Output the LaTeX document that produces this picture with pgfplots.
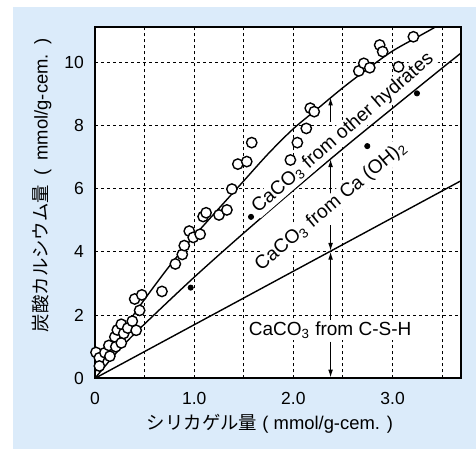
\documentclass[border=0pt]{standalone}
\usepackage{pgfplots}
\pgfplotsset{compat=1.18}
\usetikzlibrary{arrows.meta}
\usepackage{fontspec}
\setmainfont{Liberation Sans}
\newfontfamily\jp{Noto Sans CJK JP}
\definecolor{panel}{RGB}{219,235,250}

% measured carbonate contents
\pgfplotstableread{
x y
0.01 0.82
0.044 0.65
0.044 0.39
0.10 0.81
0.15 0.70
0.14 1.04
0.20 1.31
0.21 1.00
0.265 1.12
0.225 1.53
0.265 1.71
0.29 1.42
0.33 1.59
0.376 1.81
0.415 1.52
0.45 2.15
0.40 2.51
0.472 2.64
0.675 2.75
0.81 3.62
0.88 3.92
0.90 4.20
0.95 4.66
0.99 4.46
1.06 4.56
1.09 5.12
1.12 5.24
1.25 5.17
1.33 5.33
1.38 5.99
1.44 6.78
1.53 6.86
1.58 7.46
1.97 6.91
2.04 7.46
2.13 7.91
2.17 8.55
2.21 8.44
2.66 9.73
2.71 9.97
2.77 9.83
2.87 10.55
2.90 10.34
3.06 9.86
3.21 10.81
}\opencircles

\pgfplotstableread{
x y
0.965 2.87
1.573 5.11
2.745 7.35
3.246 9.02
}\filleddots

% total carbonate curve
\pgfplotstableread{
x y
0.00 0.20
0.25 1.38
0.50 2.50
0.75 3.55
1.00 4.50
1.25 5.38
1.50 6.25
1.75 7.12
2.00 7.90
2.25 8.55
2.50 9.20
2.75 9.80
3.00 10.36
3.25 10.80
3.45 11.15
}\totalcurve

% carbonate from C-S-H plus Ca(OH)2
\pgfplotstableread{
x y
0.00 0.00
0.25 0.93
0.50 1.72
1.00 3.20
1.50 4.60
2.00 5.95
2.50 7.27
3.00 8.55
3.50 9.82
3.70 10.32
}\midcurve

% carbonate from C-S-H
\pgfplotstableread{
x y
0.00 0.00
3.70 6.27
}\cshline

\begin{document}
\begin{tikzpicture}
\fill[panel] (6.5pt,0pt) rectangle (238pt,221pt);
\path[use as bounding box] (0pt,0pt) rectangle (238pt,224.5pt);
\begin{axis}[
  at={(47.5pt,35.35pt)}, anchor=south west,
  scale only axis, width=183pt, height=175.65pt,
  xmin=0, xmax=3.69, ymin=0, ymax=11.12,
  axis background/.style={fill=white},
  axis line style={line width=1pt},
  xtick={0,0.5,1,1.5,2,2.5,3,3.5},
  xticklabels={0,,1.0,,2.0,,3.0,},
  ytick={0,2,4,6,8,10},
  major tick length=0pt,
  grid=major,
  grid style={black, line width=0.5pt, dash pattern=on 1.5pt off 1.5pt},
  /pgf/number format/assume math mode=true,
  ticklabel style={font=\fontsize{8.75}{10}\selectfont},
  xticklabel style={yshift=-3.5pt},
  yticklabel style={xshift=-2pt},
  xlabel={{\jp シリカゲル量} ( mmol/g-cem. )},
  ylabel={{\jp 炭酸カルシウム量}\,\,\,(\,\,\,mmol/g-cem.\,\,\,)},
  label style={font=\fontsize{9.2}{11}\selectfont},
  xlabel style={at={(axis description cs:0.478,-0.130)}, anchor=center},
  ylabel style={at={(axis description cs:-0.1456,0.549)}, anchor=center},
  clip=true,
]
\addplot[black, line width=0.7pt, smooth] table {\totalcurve};
\addplot[black, line width=0.7pt, smooth] table {\midcurve};
\addplot[black, line width=0.7pt] table {\cshline};
\addplot[only marks, mark=*, mark size=2.6pt, mark options={fill=white, draw=black, line width=0.7pt}] table {\opencircles};
\addplot[only marks, mark=*, mark size=1.3pt, mark options={fill=black}] table {\filleddots};

\tikzset{arr/.style={-{Latex[length=4pt,width=2.4pt]}, line width=0.6pt}}
\draw[arr] (axis cs:2.375,8.12) -- (axis cs:2.375,8.89);
\draw[arr] (axis cs:2.375,7.33) -- (axis cs:2.375,6.96);
\draw[arr] (axis cs:2.375,5.80) -- (axis cs:2.375,6.94);
\draw[arr] (axis cs:2.375,4.85) -- (axis cs:2.375,4.03);
\draw[arr] (axis cs:2.375,1.85) -- (axis cs:2.375,4.01);
\draw[arr] (axis cs:2.375,1.16) -- (axis cs:2.375,0.02);

\node[fill=white, inner sep=0.8pt, font=\fontsize{9.5}{11}\selectfont] at (axis cs:2.37,1.53) {CaCO\textsubscript{3} from C-S-H};
\node[rotate=41, fill=white, inner sep=0.6pt, font=\fontsize{9.6}{11}\selectfont] at (axis cs:2.50,7.76) {CaCO\textsubscript{3} from other hydrates};
\node[rotate=40, fill=white, inner sep=0.6pt, font=\fontsize{9.6}{11}\selectfont] at (axis cs:2.38,5.45) {CaCO\textsubscript{3} from Ca (OH)\textsubscript{2}};
\end{axis}
\end{tikzpicture}
\end{document}
